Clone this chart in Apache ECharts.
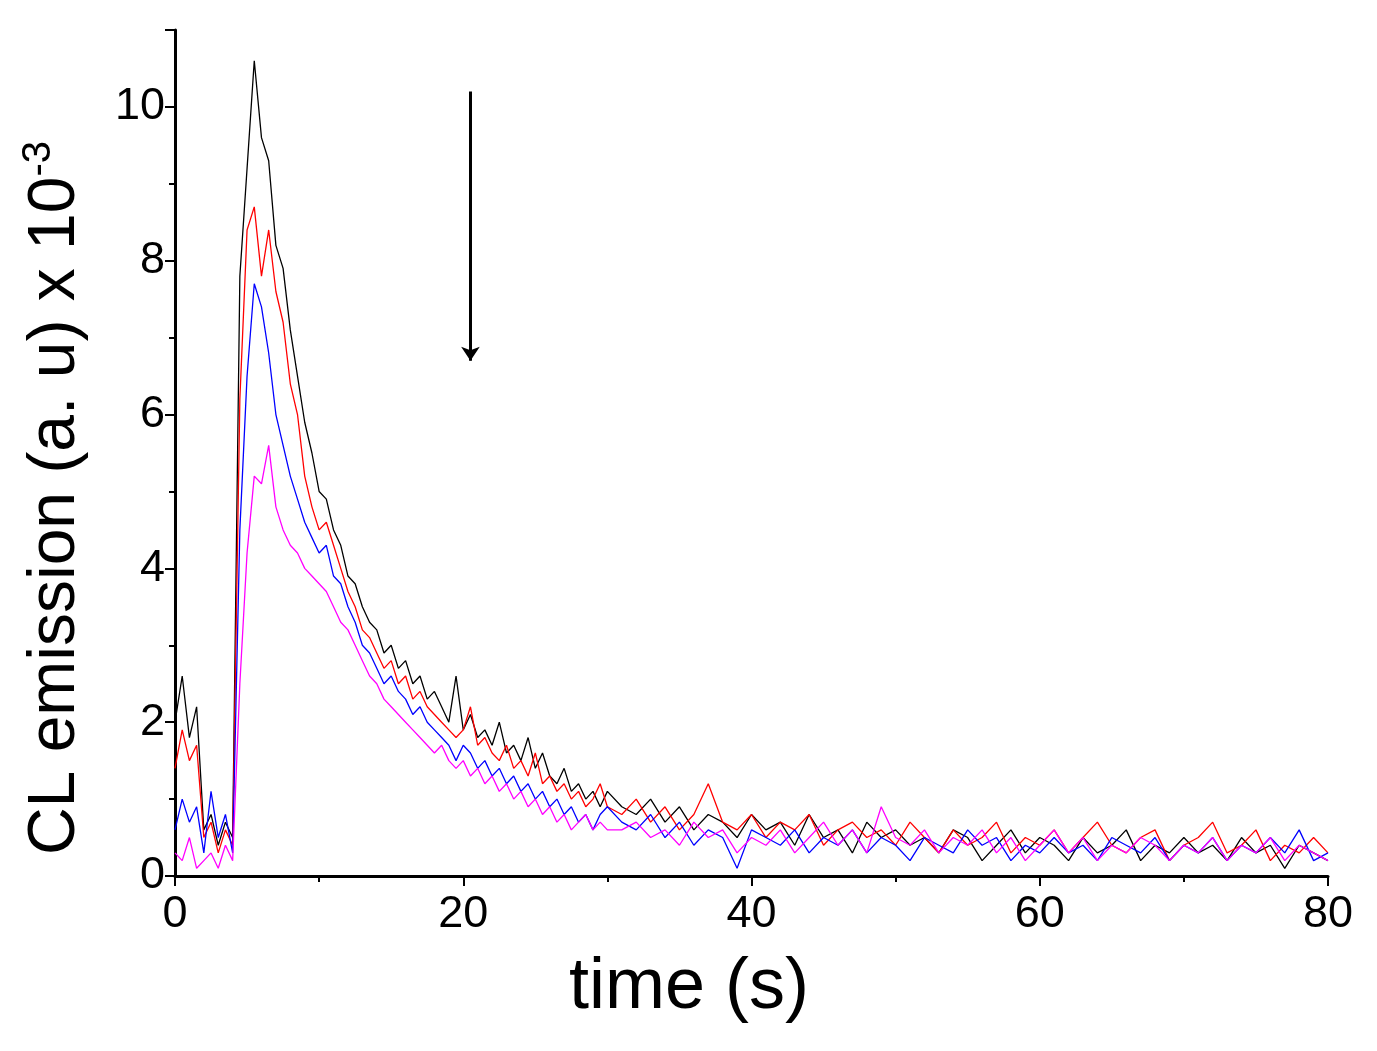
<!DOCTYPE html>
<html><head><meta charset="utf-8">
<script src="https://cdn.jsdelivr.net/npm/echarts@6/dist/echarts.min.js"></script>
<style>html,body{margin:0;padding:0;background:#fff}#c{width:1377px;height:1051px}</style>
</head><body><div id="c"></div>
<script>
// time stamps: 0..30 s every 0.5 s, then 31..80 s every 1 s
const times = [];
for (let i = 0; i <= 60; i++) times.push(i * 0.5);
for (let t = 31; t <= 80; t++) times.push(t);

const black = [2.0,2.6,1.8,2.2,0.6,0.8,0.4,0.7,0.5,7.8,9.2,10.6,9.6,9.3,8.2,7.9,7.1,6.5,5.9,5.5,5.0,4.9,4.5,4.3,3.9,3.8,3.5,3.3,3.2,2.9,3.0,2.7,2.8,2.5,2.6,2.3,2.4,2.2,2.0,2.6,1.9,2.1,1.8,1.9,1.7,2.0,1.6,1.7,1.5,1.8,1.4,1.6,1.3,1.2,1.4,1.1,1.2,1.0,1.1,0.9,1.1,
0.9,0.8,1.0,0.7,0.9,0.6,0.8,0.7,0.5,0.8,0.6,0.7,0.4,0.8,0.5,0.6,0.3,0.7,0.5,0.6,0.4,0.5,0.3,0.6,0.5,0.2,0.4,0.6,0.3,0.5,0.4,0.2,0.5,0.3,0.4,0.6,0.2,0.4,0.3,0.5,0.3,0.4,0.2,0.5,0.3,0.4,0.1,0.4,0.3,0.2];
const red = [1.4,1.9,1.5,1.7,0.5,0.7,0.3,0.6,0.4,6.2,8.4,8.7,7.8,8.4,7.6,7.2,6.4,6.0,5.2,4.8,4.5,4.6,4.3,4.0,3.7,3.5,3.2,3.1,2.9,2.7,2.8,2.5,2.6,2.3,2.4,2.2,2.1,2.0,1.9,1.8,1.9,2.2,1.7,1.8,1.6,1.5,1.7,1.4,1.5,1.3,1.6,1.2,1.3,1.1,1.2,1.0,1.1,0.9,1.0,1.2,0.9,
0.8,1.0,0.7,0.9,0.6,0.8,1.2,0.7,0.6,0.8,0.5,0.7,0.6,0.8,0.4,0.6,0.7,0.5,0.6,0.4,0.7,0.5,0.3,0.6,0.4,0.5,0.7,0.3,0.5,0.4,0.6,0.3,0.5,0.7,0.4,0.3,0.5,0.6,0.2,0.4,0.5,0.7,0.3,0.4,0.6,0.2,0.4,0.3,0.5,0.3];
const blue = [0.6,1.0,0.7,0.9,0.3,1.1,0.5,0.8,0.3,4.5,6.5,7.7,7.4,6.8,6.0,5.6,5.2,4.9,4.6,4.4,4.2,4.3,3.9,3.8,3.5,3.3,3.0,2.9,2.7,2.5,2.6,2.4,2.3,2.1,2.2,2.0,1.9,1.8,1.7,1.5,1.7,1.6,1.4,1.5,1.3,1.4,1.2,1.3,1.1,1.2,1.0,1.1,0.9,1.0,0.8,0.9,0.7,0.8,0.6,0.8,0.9,
0.7,0.6,0.8,0.5,0.7,0.4,0.6,0.5,0.1,0.6,0.5,0.4,0.6,0.3,0.5,0.4,0.6,0.3,0.5,0.4,0.2,0.5,0.4,0.3,0.6,0.4,0.5,0.2,0.4,0.3,0.5,0.3,0.4,0.2,0.5,0.4,0.3,0.5,0.2,0.4,0.3,0.5,0.2,0.4,0.3,0.5,0.3,0.6,0.2,0.3];
const magenta = [0.3,0.2,0.5,0.1,0.2,0.3,0.1,0.4,0.2,2.5,4.2,5.2,5.1,5.6,4.8,4.5,4.3,4.2,4.0,3.9,3.8,3.7,3.5,3.3,3.2,3.0,2.8,2.6,2.5,2.3,2.2,2.1,2.0,1.9,1.8,1.7,1.6,1.7,1.5,1.4,1.5,1.3,1.4,1.2,1.3,1.1,1.2,1.0,1.1,0.9,1.0,0.8,0.9,0.7,0.8,0.6,0.7,0.8,0.6,0.7,0.6,
0.6,0.7,0.5,0.6,0.4,0.7,0.5,0.6,0.3,0.5,0.4,0.6,0.3,0.5,0.7,0.4,0.6,0.3,0.9,0.5,0.4,0.6,0.3,0.5,0.4,0.6,0.3,0.5,0.2,0.4,0.6,0.3,0.5,0.2,0.4,0.3,0.5,0.4,0.2,0.4,0.3,0.5,0.2,0.4,0.3,0.5,0.2,0.4,0.3,0.2];

const arrowX = 20.5, arrowFrom = 10.2, arrowTo = 6.7;

const names = ['black','red','blue','magenta'];
const colors = ['#000000','#ff0000','#0000ff','#ff00ff'];
const sets = [black, red, blue, magenta];

const series = sets.map((d, i) => ({
  type: 'line', name: names[i], showSymbol: false, animation: false,
  data: times.map((t, j) => [t, d[j]]),
  lineStyle: { color: colors[i], width: 1.3 }
}));
series[0].markLine = {
  silent: true, symbol: ['none', 'arrow'], symbolSize: 14, label: { show: false },
  lineStyle: { color: '#000', width: 3, type: 'solid' },
  data: [[{ coord: [arrowX, arrowFrom] }, { coord: [arrowX, arrowTo] }]]
};

const chart = echarts.init(document.getElementById('c'));
chart.setOption({
  backgroundColor: '#fff',
  grid: { left: 175, right: 49, top: 30, bottom: 175, containLabel: false, outerBoundsMode: 'none' },
  xAxis: {
    type: 'value', min: 0, max: 80, interval: 20,
    name: 'time (s)', nameLocation: 'middle', nameGap: 76,
    nameTextStyle: { fontFamily: 'Liberation Sans', fontSize: 72, color: '#000', padding: [0,125,0,0] },
    axisLine: { lineStyle: { color: '#000', width: 3 } },
    axisTick: { length: 10, lineStyle: { width: 2, color: '#000' } },
    minorTick: { show: true, splitNumber: 2, length: 6, lineStyle: { color: '#000', width: 2 } },
    axisLabel: { fontFamily: 'Liberation Sans', fontSize: 45, color: '#000', margin: 16 },
    splitLine: { show: false }
  },
  yAxis: {
    type: 'value', min: 0, max: 11, interval: 2,
    name: '{a|CL emission (a. u) x 10}{s|-3}', nameLocation: 'middle', nameGap: 82, nameRotate: 90,
    nameTextStyle: { padding: [0,90,0,0], rich: {
      a: { fontFamily: 'Liberation Sans', fontSize: 66, color: '#000' },
      s: { fontFamily: 'Liberation Sans', fontSize: 40, color: '#000', verticalAlign: 'top', padding: [0,0,34,0] }
    } },
    axisLine: { show: true, lineStyle: { color: '#000', width: 3 } },
    axisTick: { show: true, length: 10, lineStyle: { width: 2, color: '#000' } },
    minorTick: { show: true, splitNumber: 2, length: 6, lineStyle: { color: '#000', width: 2 } },
    axisLabel: { fontFamily: 'Liberation Sans', fontSize: 45, color: '#000', margin: 10,
      formatter: v => (v % 2 === 0 && v <= 10) ? String(v) : '' },
    splitLine: { show: false }
  },
  series
});
</script></body></html>
